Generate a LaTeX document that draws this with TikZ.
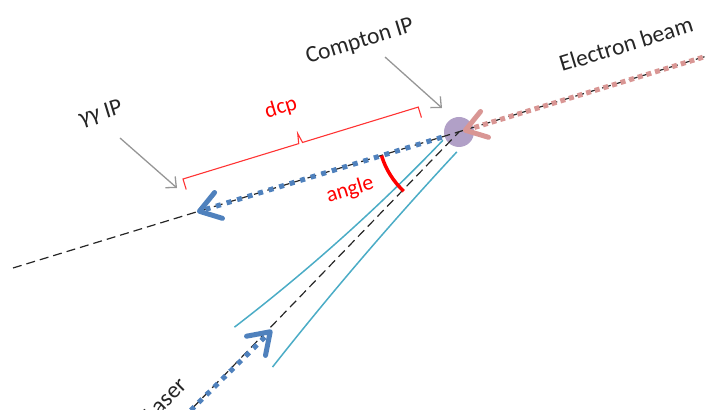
\documentclass[tikz,border=0pt]{standalone}
\usepackage{fontspec}
\setmainfont{Carlito}
\usetikzlibrary{arrows.meta}

\definecolor{photonblue}{RGB}{79,129,189}
\definecolor{electronpink}{RGB}{217,150,148}
\definecolor{lasercyan}{RGB}{75,172,198}
\definecolor{iplilac}{RGB}{177,160,199}
\definecolor{pointergrey}{RGB}{150,150,150}

\begin{document}
\begin{tikzpicture}[x=1pt, y=1pt,
  axisline/.style={black!85, line width=1.2pt, dash pattern=on 9pt off 5pt},
  photon/.style={photonblue, line width=5pt, dash pattern=on 5pt off 6pt},
  electron/.style={electronpink, line width=5pt, dash pattern=on 5pt off 4pt},
  barb/.style={-{Straight Barb[length=20pt, width=27pt, line width=5pt, round]}},
  focus/.style={lasercyan, line width=1.5pt},
  pointer/.style={pointergrey, line width=1.3pt, -{Straight Barb[length=8pt, width=15pt]}},
  lbl/.style={inner sep=0pt, text=black!85, font=\fontsize{23.5}{28}\selectfont},
  redlbl/.style={lbl, text=red, font=\fontsize{22}{26}\selectfont}]
  \clip (0,0) rectangle (705,410);
  % key points
  \coordinate (cip) at (459,278);
  \coordinate (ggip) at (197,198);
  \coordinate (etip) at (463,279);
  \coordinate (beamL) at (13,142);
  \coordinate (beamR) at (720,358);
  \coordinate (lasertip) at (272,80);
  \coordinate (laserend) at (183,-8);
  % Compton IP spot
  \fill[iplilac] (cip) circle[radius=15pt];
  % beam axes
  \draw[axisline] (beamL) -- (beamR);
  \draw[axisline] (laserend) -- (cip);
  % electron, scattered photon and laser
  \draw[electron, barb] (beamR) -- (etip);
  \draw[photon, barb, shorten <=18pt] (cip) -- (ggip);
  \draw[photon, barb] (laserend) -- (lasertip);
  % focused laser envelope
  \begin{scope}[shift={(cip)}, rotate=226.8]
    \draw[focus] plot[domain=17:296, samples=40] (\x, {-(6+2.75*(\x/100)^2)});
    \draw[focus] plot[domain=16:299, samples=40] (\x, {12+1.45*(\x/100)^2});
  \end{scope}
  % crossing angle
  \draw[red, line width=3.5pt] ([shift={(197:81pt)}]cip) arc[start angle=197, end angle=227, radius=81pt];
  \node[redlbl, rotate=17] (anglelbl) at (350,220) {angle};
  % distance bracket
  \begin{scope}[shift={(183,231)}, rotate=17]
    \draw[red!80, line width=1.1pt] (0,-11) -- (0,0) -- (121,0) -- (123,10) -- (125,0) -- (246,0) -- (246,-11);
  \end{scope}
  \node[redlbl, rotate=17] (dcplbl) at (281,302) {dcp};
  % labels and pointers
  \node[lbl, rotate=17] (cIPlbl) at (360,368) {Compton IP};
  \node[lbl, rotate=17] (ggIPlbl) at (101,296) {γγ IP};
  \node[lbl, rotate=17] (elbl) at (626,366) {Electron beam};
  \node[lbl, rotate=45] (laserlbl) at (165,11) {Laser};
  \coordinate (cIPfrom) at (385,353);
  \coordinate (cIPto) at (442,302);
  \coordinate (ggfrom) at (120,272);
  \coordinate (ggto) at (177,222);
  \draw[pointer] (cIPfrom) -- (cIPto);
  \draw[pointer] (ggfrom) -- (ggto);
\end{tikzpicture}
\end{document}
